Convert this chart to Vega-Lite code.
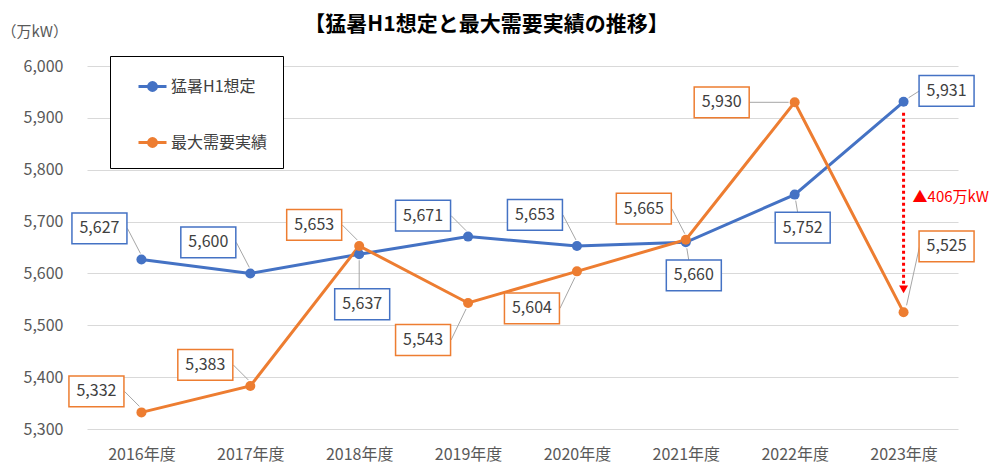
{
  "$schema": "https://vega.github.io/schema/vega-lite/v6.json",
  "width": 871,
  "height": 363,
  "autosize": "none",
  "padding": {"left": 87, "top": 66, "right": 42, "bottom": 46},
  "background": "white",
  "config": {
    "font": "Noto Sans CJK JP",
    "view": {"stroke": null},
    "legend": {
      "orient": "none",
      "legendX": 23,
      "legendY": -10,
      "fillColor": "white",
      "strokeColor": "#000000",
      "strokeWidth": 1,
      "padding": 15,
      "labelFontSize": 16,
      "labelColor": "#404040",
      "labelOffset": 3,
      "rowPadding": 30,
      "symbolOffset": 12,
      "symbolSize": 784,
      "symbolStrokeWidth": 3
    }
  },
  "title": {
    "text": "【猛暑H1想定と最大需要実績の推移】",
    "fontSize": 21,
    "fontWeight": "bold",
    "color": "#000000",
    "anchor": "middle",
    "dx": -36,
    "offset": -11
  },
  "resolve": {"axis": {"y": "independent"}},
  "data": {
    "values": [
      {"year": "2016年度", "猛暑H1想定": 5627, "最大需要実績": 5332},
      {"year": "2017年度", "猛暑H1想定": 5600, "最大需要実績": 5383},
      {"year": "2018年度", "猛暑H1想定": 5637, "最大需要実績": 5653},
      {"year": "2019年度", "猛暑H1想定": 5671, "最大需要実績": 5543},
      {"year": "2020年度", "猛暑H1想定": 5653, "最大需要実績": 5604},
      {"year": "2021年度", "猛暑H1想定": 5660, "最大需要実績": 5665},
      {"year": "2022年度", "猛暑H1想定": 5752, "最大需要実績": 5930},
      {"year": "2023年度", "猛暑H1想定": 5931, "最大需要実績": 5525}
    ]
  },
  "encoding": {
    "x": {
      "field": "year",
      "type": "ordinal",
      "sort": null,
      "scale": {"type": "point", "padding": 0.5},
      "axis": {
        "title": null,
        "labelAngle": 0,
        "domain": false,
        "ticks": false,
        "grid": false,
        "labelPadding": 17,
        "labelFontSize": 16,
        "labelColor": "#595959"
      }
    }
  },
  "layer": [
    {
      "transform": [{"fold": ["猛暑H1想定", "最大需要実績"], "as": ["series", "value"]}],
      "encoding": {
        "y": {
          "field": "value",
          "type": "quantitative",
          "scale": {"domain": [5300, 6000], "nice": false, "zero": false},
          "axis": {
            "format": ",.0f",
            "values": [5300, 5400, 5500, 5600, 5700, 5800, 5900, 6000],
            "grid": true,
            "gridColor": "#D9D9D9",
            "gridWidth": 1,
            "domain": false,
            "ticks": false,
            "labelPadding": 24,
            "labelFontSize": 16,
            "labelColor": "#595959",
            "title": "（万kW）",
            "titleAngle": 0,
            "titleAlign": "left",
            "titleBaseline": "middle",
            "titleX": -86,
            "titleY": -35,
            "titleFontSize": 15,
            "titleFontWeight": "normal",
            "titleColor": "#595959"
          }
        }
      },
      "layer": [
        {
          "mark": {"type": "line", "strokeWidth": 3, "point": {"filled": true, "size": 100, "opacity": 1}},
          "encoding": {
            "color": {
              "field": "series",
              "type": "nominal",
              "scale": {"domain": ["猛暑H1想定", "最大需要実績"], "range": ["#4472C4", "#ED7D31"]},
              "legend": {
                "title": null,
                "symbolType": "M-1,0H1M-0.28,0A0.28,0.28,0,1,0,0.28,0A0.28,0.28,0,1,0,-0.28,0",
                "encode": {
                  "symbols": {
                    "update": {
                      "fill": {"scale": "color", "field": "value"},
                      "stroke": {"scale": "color", "field": "value"},
                      "strokeWidth": {"value": 3}
                    }
                  }
                }
              }
            }
          }
        },
        {
          "transform": [{"filter": "(datum.series=='猛暑H1想定' && indexof(['2016年度','2017年度','2020年度'], datum.year)>=0) || (datum.series=='最大需要実績' && datum.year=='2021年度')"}],
          "layer": [
            {"mark": {"type": "rule", "color": "#A6A6A6", "strokeWidth": 1, "xOffset": -1, "yOffset": -6, "x2Offset": -14, "y2Offset": -31}, "encoding": {"x2": {"field": "year"}, "y2": {"field": "value"}}},
            {"mark": {"type": "point", "shape": "M-1,-0.56H1V0.56H-1Z", "size": 3025, "filled": true, "fill": "white", "opacity": 1, "strokeWidth": 1.5, "xOffset": -42, "yOffset": -31}, "encoding": {"stroke": {"field": "series", "type": "nominal", "scale": {"domain": ["猛暑H1想定", "最大需要実績"], "range": ["#4472C4", "#ED7D31"]}, "legend": null}}},
            {"mark": {"type": "text", "fontSize": 16, "color": "#404040", "align": "center", "baseline": "middle", "dx": -42, "dy": -31}, "encoding": {"text": {"field": "value", "type": "quantitative", "format": ","}}}
          ]
        },
        {
          "transform": [{"filter": "(datum.series=='猛暑H1想定' && datum.year=='2019年度') || (datum.series=='最大需要実績' && indexof(['2016年度','2017年度','2018年度'], datum.year)>=0)"}],
          "layer": [
            {"mark": {"type": "rule", "color": "#A6A6A6", "strokeWidth": 1, "xOffset": -2, "yOffset": -6, "x2Offset": -17, "y2Offset": -21}, "encoding": {"x2": {"field": "year"}, "y2": {"field": "value"}}},
            {"mark": {"type": "point", "shape": "M-1,-0.56H1V0.56H-1Z", "size": 3025, "filled": true, "fill": "white", "opacity": 1, "strokeWidth": 1.5, "xOffset": -45, "yOffset": -21}, "encoding": {"stroke": {"field": "series", "type": "nominal", "scale": {"domain": ["猛暑H1想定", "最大需要実績"], "range": ["#4472C4", "#ED7D31"]}, "legend": null}}},
            {"mark": {"type": "text", "fontSize": 16, "color": "#404040", "align": "center", "baseline": "middle", "dx": -45, "dy": -21}, "encoding": {"text": {"field": "value", "type": "quantitative", "format": ","}}}
          ]
        },
        {
          "transform": [{"filter": "datum.series=='最大需要実績' && indexof(['2019年度','2020年度'], datum.year)>=0"}],
          "layer": [
            {"mark": {"type": "rule", "color": "#A6A6A6", "strokeWidth": 1, "xOffset": -2, "yOffset": 6, "x2Offset": -17, "y2Offset": 37}, "encoding": {"x2": {"field": "year"}, "y2": {"field": "value"}}},
            {"mark": {"type": "point", "shape": "M-1,-0.56H1V0.56H-1Z", "size": 3025, "filled": true, "fill": "white", "opacity": 1, "strokeWidth": 1.5, "xOffset": -45, "yOffset": 37}, "encoding": {"stroke": {"field": "series", "type": "nominal", "scale": {"domain": ["猛暑H1想定", "最大需要実績"], "range": ["#4472C4", "#ED7D31"]}, "legend": null}}},
            {"mark": {"type": "text", "fontSize": 16, "color": "#404040", "align": "center", "baseline": "middle", "dx": -45, "dy": 37}, "encoding": {"text": {"field": "value", "type": "quantitative", "format": ","}}}
          ]
        },
        {
          "transform": [{"filter": "datum.series=='猛暑H1想定' && indexof(['2021年度','2022年度'], datum.year)>=0"}],
          "layer": [
            {"mark": {"type": "rule", "color": "#A6A6A6", "strokeWidth": 1, "xOffset": 1, "yOffset": 6, "x2Offset": 3, "y2Offset": 18}, "encoding": {"x2": {"field": "year"}, "y2": {"field": "value"}}},
            {"mark": {"type": "point", "shape": "M-1,-0.56H1V0.56H-1Z", "size": 3025, "filled": true, "fill": "white", "opacity": 1, "strokeWidth": 1.5, "xOffset": 8, "yOffset": 33}, "encoding": {"stroke": {"field": "series", "type": "nominal", "scale": {"domain": ["猛暑H1想定", "最大需要実績"], "range": ["#4472C4", "#ED7D31"]}, "legend": null}}},
            {"mark": {"type": "text", "fontSize": 16, "color": "#404040", "align": "center", "baseline": "middle", "dx": 8, "dy": 33}, "encoding": {"text": {"field": "value", "type": "quantitative", "format": ","}}}
          ]
        },
        {
          "transform": [{"filter": "datum.series=='猛暑H1想定' && datum.year=='2018年度'"}],
          "layer": [
            {"mark": {"type": "rule", "color": "#A6A6A6", "strokeWidth": 1, "xOffset": 0, "yOffset": 6, "x2Offset": 0, "y2Offset": 35}, "encoding": {"x2": {"field": "year"}, "y2": {"field": "value"}}},
            {"mark": {"type": "point", "shape": "M-1,-0.56H1V0.56H-1Z", "size": 3025, "filled": true, "fill": "white", "opacity": 1, "strokeWidth": 1.5, "xOffset": 3, "yOffset": 50}, "encoding": {"stroke": {"field": "series", "type": "nominal", "scale": {"domain": ["猛暑H1想定", "最大需要実績"], "range": ["#4472C4", "#ED7D31"]}, "legend": null}}},
            {"mark": {"type": "text", "fontSize": 16, "color": "#404040", "align": "center", "baseline": "middle", "dx": 3, "dy": 50}, "encoding": {"text": {"field": "value", "type": "quantitative", "format": ","}}}
          ]
        },
        {
          "transform": [{"filter": "datum.series=='猛暑H1想定' && datum.year=='2023年度'"}],
          "layer": [
            {"mark": {"type": "rule", "color": "#A6A6A6", "strokeWidth": 1, "xOffset": 5, "yOffset": -4, "x2Offset": 16, "y2Offset": -11}, "encoding": {"x2": {"field": "year"}, "y2": {"field": "value"}}},
            {"mark": {"type": "point", "shape": "M-1,-0.56H1V0.56H-1Z", "size": 3025, "filled": true, "fill": "white", "opacity": 1, "strokeWidth": 1.5, "xOffset": 43, "yOffset": -11}, "encoding": {"stroke": {"field": "series", "type": "nominal", "scale": {"domain": ["猛暑H1想定", "最大需要実績"], "range": ["#4472C4", "#ED7D31"]}, "legend": null}}},
            {"mark": {"type": "text", "fontSize": 16, "color": "#404040", "align": "center", "baseline": "middle", "dx": 43, "dy": -11}, "encoding": {"text": {"field": "value", "type": "quantitative", "format": ","}}}
          ]
        },
        {
          "transform": [{"filter": "datum.series=='最大需要実績' && datum.year=='2023年度'"}],
          "layer": [
            {"mark": {"type": "rule", "color": "#A6A6A6", "strokeWidth": 1, "xOffset": 3, "yOffset": -7, "x2Offset": 16, "y2Offset": -66}, "encoding": {"x2": {"field": "year"}, "y2": {"field": "value"}}},
            {"mark": {"type": "point", "shape": "M-1,-0.56H1V0.56H-1Z", "size": 3025, "filled": true, "fill": "white", "opacity": 1, "strokeWidth": 1.5, "xOffset": 43, "yOffset": -66}, "encoding": {"stroke": {"field": "series", "type": "nominal", "scale": {"domain": ["猛暑H1想定", "最大需要実績"], "range": ["#4472C4", "#ED7D31"]}, "legend": null}}},
            {"mark": {"type": "text", "fontSize": 16, "color": "#404040", "align": "center", "baseline": "middle", "dx": 43, "dy": -66}, "encoding": {"text": {"field": "value", "type": "quantitative", "format": ","}}}
          ]
        },
        {
          "transform": [{"filter": "datum.series=='最大需要実績' && datum.year=='2022年度'"}],
          "layer": [
            {"mark": {"type": "rule", "color": "#A6A6A6", "strokeWidth": 1, "xOffset": -6, "yOffset": 0, "x2Offset": -46, "y2Offset": 0}, "encoding": {"x2": {"field": "year"}, "y2": {"field": "value"}}},
            {"mark": {"type": "point", "shape": "M-1,-0.56H1V0.56H-1Z", "size": 3025, "filled": true, "fill": "white", "opacity": 1, "strokeWidth": 1.5, "xOffset": -73, "yOffset": 0}, "encoding": {"stroke": {"field": "series", "type": "nominal", "scale": {"domain": ["猛暑H1想定", "最大需要実績"], "range": ["#4472C4", "#ED7D31"]}, "legend": null}}},
            {"mark": {"type": "text", "fontSize": 16, "color": "#404040", "align": "center", "baseline": "middle", "dx": -73, "dy": 0}, "encoding": {"text": {"field": "value", "type": "quantitative", "format": ","}}}
          ]
        }
      ]
    },
    {
      "transform": [{"filter": "datum.year=='2023年度'"}],
      "layer": [
        {
          "mark": {"type": "rule", "color": "#FF0000", "strokeWidth": 3, "strokeDash": [3, 3], "yOffset": 11, "y2Offset": -25},
          "encoding": {"y": {"field": "猛暑H1想定", "type": "quantitative", "axis": null}, "y2": {"field": "最大需要実績"}}
        },
        {
          "mark": {"type": "point", "shape": "triangle-down", "filled": true, "color": "#FF0000", "opacity": 1, "size": 80, "yOffset": -23},
          "encoding": {"y": {"field": "最大需要実績", "type": "quantitative", "axis": null}}
        },
        {
          "mark": {"type": "text", "text": "▲406万kW", "color": "#FF0000", "fontSize": 15, "align": "left", "baseline": "middle", "dx": 9, "dy": 95},
          "encoding": {"y": {"field": "猛暑H1想定", "type": "quantitative", "axis": null}}
        }
      ]
    }
  ]
}
